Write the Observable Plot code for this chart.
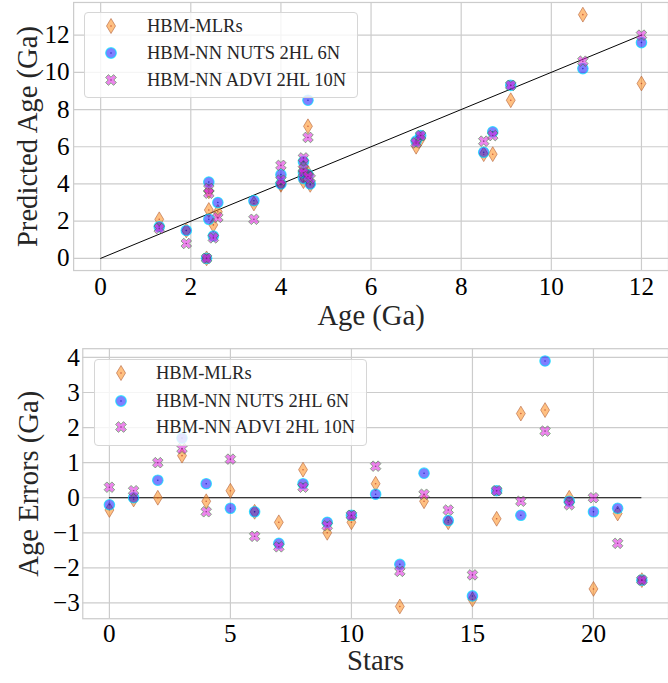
<!DOCTYPE html>
<html><head><meta charset="utf-8">
<script src="https://cdn.jsdelivr.net/npm/d3@7"></script>
<script src="https://cdn.jsdelivr.net/npm/@observablehq/plot@0.6"></script>
<style>
html,body{margin:0;padding:0;overflow:hidden;background:#fff;width:668px;height:683px}
#wrap{position:relative;width:668px;height:683px;overflow:hidden}
.panel{position:absolute;left:0}
.legend{position:absolute;background:rgba(255,255,255,0.8);border:1px solid #d6d6d6;border-radius:4px;box-sizing:border-box;font-family:"Liberation Serif","DejaVu Serif",serif;font-size:18.5px;color:#262626}
.legend .row{position:absolute;height:24px;line-height:24px;white-space:nowrap}
.legend svg{position:absolute;overflow:visible}
</style></head><body><div id="wrap"></div>
<script>
// ---------- data ----------
const stars = [0,1,2,3,4,5,6,7,8,9,10,11,12,13,14,15,16,17,18,19,20,21,22];
const ages     = [4.5, 4.0, 4.0, 2.4, 2.6, 2.4, 1.9, 2.5, 1.3, 7.0, 7.1, 4.5, 8.7, 4.5, 4.65, 8.5, 9.1, 10.7, 4.6, 4.6, 12.0, 3.4, 2.35];
const predMLR  = [4.15, 3.95, 4.0, 3.6, 2.5, 2.6, 1.5, 1.8, 2.1, 6.0, 6.4, 4.9, 5.6, 4.4, 3.95, 5.6, 8.5, 13.1, 7.1, 4.6, 9.4, 2.95, 0.0];
const predNUTS = [4.3, 4.0, 4.5, 4.1, 3.0, 2.1, 1.5, 1.2, 1.7, 6.3, 6.6, 4.6, 6.8, 5.2, 4.0, 5.7, 9.3, 10.2, 8.5, 4.5, 11.6, 3.1, 0.0];
const predADVI = [4.8, 4.2, 5.0, 3.75, 2.2, 3.5, 0.8, 1.1, 1.6, 6.2, 6.6, 5.4, 6.6, 4.6, 4.3, 6.3, 9.3, 10.6, 6.5, 4.4, 12.0, 2.1, 0.0];
const errMLR   = [-0.35, -0.05, 0.0, 1.2, -0.1, 0.2, -0.4, -0.7, 0.8, -1.0, -0.7, 0.4, -3.1, -0.1, -0.7, -2.9, -0.6, 2.4, 2.5, 0.0, -2.6, -0.45, -2.35];
const errNUTS  = [-0.2, 0.0, 0.5, 1.7, 0.4, -0.3, -0.4, -1.3, 0.4, -0.7, -0.5, 0.1, -1.9, 0.7, -0.65, -2.8, 0.2, -0.5, 3.9, -0.1, -0.4, -0.3, -2.35];
const errADVI  = [0.3, 0.2, 1.0, 1.4, -0.4, 1.1, -1.1, -1.4, 0.3, -0.8, -0.5, 0.9, -2.1, 0.1, -0.35, -2.2, 0.2, -0.1, 1.9, -0.2, 0.0, -1.3, -2.35];
const diagX = [0, 12];
const diagY = [0, 12];
const zeroY = [0];
const topXTicks = [0, 2, 4, 6, 8, 10, 12];
const topYTicks = [0, 2, 4, 6, 8, 10, 12];
const botXTicks = [0, 5, 10, 15, 20];
const botYTicks = [-3, -2, -1, 0, 1, 2, 3, 4];
const seriesNames = ["HBM-MLRs", "HBM-NN NUTS 2HL 6N", "HBM-NN ADVI 2HL 10N"];
const topXLabel = "Age (Ga)";
const topYLabel = "Predicted Age (Ga)";
const botXLabel = "Stars";
const botYLabel = "Age Errors (Ga)";

// ---------- styles ----------
const FONT = '"Liberation Serif","DejaVu Serif",serif';
const thinDiamond = {draw(ctx, size) {
  const r = Math.sqrt(size / Math.PI), h = r * 1.5, w = r * 0.9;
  ctx.moveTo(0, -h); ctx.lineTo(w, 0); ctx.lineTo(0, h); ctx.lineTo(-w, 0); ctx.closePath();
}};
const filledX = {draw(ctx, size) {
  const R = Math.sqrt(size / Math.PI) * 1.12, w = R * 0.36;
  const p = [[-w,-R],[w,-R],[w,-w],[R,-w],[R,w],[w,w],[w,R],[-w,R],[-w,w],[-R,w],[-R,-w],[-w,-w]];
  const s = Math.SQRT1_2;
  p.forEach(([x, y], i) => {
    const X = (x - y) * s, Y = (x + y) * s;
    if (i === 0) ctx.moveTo(X, Y); else ctx.lineTo(X, Y);
  });
  ctx.closePath();
}};
const styles = [
  {symbol: thinDiamond, r: 5, fill: "#ff8c1a", fillOpacity: 0.55, stroke: "#b0603a", strokeOpacity: 0.75, strokeWidth: 0.8, dot: "#c0442a"},
  {symbol: "circle", r: 5.3, fill: "#0000ff", fillOpacity: 0.5, stroke: "#00e0ff", strokeOpacity: 0.7, strokeWidth: 1.2, dot: "#1a1ab0"},
  {symbol: filledX, r: 5, fill: "#dd22dd", fillOpacity: 0.55, stroke: "#2e8b2e", strokeOpacity: 0.55, strokeWidth: 1, dot: "#7a1a7a"}
];
const fmt = d => d < 0 ? "\u2212" + Math.abs(d) : String(d);
const gridStyle = {stroke: "#cccccc", strokeOpacity: 1, strokeWidth: 1.2};

function seriesMarks(xs, ys) {
  const marks = [];
  ys.forEach((yv, k) => {
    const s = styles[k];
    marks.push(Plot.dot(stars, {x: xs, y: yv, symbol: s.symbol, r: s.r, fill: s.fill, fillOpacity: s.fillOpacity,
      stroke: s.stroke, strokeOpacity: s.strokeOpacity, strokeWidth: s.strokeWidth}));
    marks.push(Plot.dot(stars, {x: xs, y: yv, r: 0.8, fill: s.dot, fillOpacity: 0.8}));
  });
  return marks;
}

const topPlot = Plot.plot({
  width: 676, height: 340,
  marginTop: 2, marginBottom: 66.7, marginLeft: 74, marginRight: 0,
  style: {fontFamily: FONT, background: "transparent", color: "black"},
  x: {domain: [-0.6, 12.6], label: null},
  y: {domain: [-0.655, 13.755], label: null},
  marks: [
    Plot.gridX(topXTicks, gridStyle),
    Plot.gridY(topYTicks, gridStyle),
    Plot.frame({stroke: "#cccccc", strokeWidth: 1.25}),
    Plot.axisX(topXTicks, {tickSize: 0, tickPadding: 7, fontSize: 25.5, label: null, tickFormat: fmt}),
    Plot.axisY(topYTicks, {tickSize: 0, tickPadding: 4, fontSize: 25.5, label: null, tickFormat: fmt}),
    Plot.line(diagX, {x: diagX, y: diagY, stroke: "black", strokeWidth: 1}),
    ...seriesMarks(ages, [predMLR, predNUTS, predADVI]),
    Plot.text([topXLabel], {text: d => d, frameAnchor: "bottom", dy: 46, fontSize: 29, lineAnchor: "middle", fill: "#262626"}),
    Plot.text([topYLabel], {text: d => d, frameAnchor: "left", rotate: -90, dx: -46, fontSize: 29, textAnchor: "middle", lineAnchor: "middle", fill: "#262626"})
  ]
});

const botPlot = Plot.plot({
  width: 676.3, height: 343,
  marginTop: 8.3, marginBottom: 61.3, marginLeft: 83.3, marginRight: 0,
  style: {fontFamily: FONT, background: "transparent", color: "black"},
  x: {domain: [-1.1, 23.1], label: null},
  y: {domain: [-3.45, 4.25], label: null},
  marks: [
    Plot.gridX(botXTicks, gridStyle),
    Plot.gridY(botYTicks, gridStyle),
    Plot.frame({stroke: "#cccccc", strokeWidth: 1.25}),
    Plot.axisX(botXTicks, {tickSize: 0, tickPadding: 5, fontSize: 25.5, label: null, tickFormat: fmt}),
    Plot.axisY(botYTicks, {tickSize: 0, tickPadding: 3, fontSize: 25.5, label: null, tickFormat: fmt}),
    Plot.ruleY(zeroY, {x1: d3.min(stars), x2: d3.max(stars), stroke: "black", strokeWidth: 1}),
    ...seriesMarks(stars, [errMLR, errNUTS, errADVI]),
    Plot.text([botXLabel], {text: d => d, frameAnchor: "bottom", dy: 43, fontSize: 29, lineAnchor: "middle", fill: "#262626"}),
    Plot.text([botYLabel], {text: d => d, frameAnchor: "left", rotate: -90, dx: -55, fontSize: 29, textAnchor: "middle", lineAnchor: "middle", fill: "#262626"})
  ]
});

const wrap = document.getElementById("wrap");
topPlot.classList.add("panel"); topPlot.style.top = "0px";
botPlot.classList.add("panel"); botPlot.style.top = "340px";
wrap.appendChild(topPlot);
wrap.appendChild(botPlot);

function legend(left, top, width, height, rows, markerX, textX) {
  const div = d3.select(wrap).append("div").attr("class", "legend")
    .style("left", left + "px").style("top", top + "px").style("width", width + "px").style("height", height + "px");
  seriesNames.forEach((name, k) => {
    const s = styles[k];
    const type = typeof s.symbol === "string" ? d3.symbolCircle : s.symbol;
    const svg = div.append("svg").attr("width", 20).attr("height", 20)
      .style("left", (markerX - 10 - 1) + "px").style("top", (rows[k] - 10 - 1) + "px");
    svg.append("path").attr("transform", "translate(10,10)")
      .attr("d", d3.symbol(type, s.r * s.r * Math.PI)())
      .attr("fill", s.fill).attr("fill-opacity", s.fillOpacity)
      .attr("stroke", s.stroke).attr("stroke-opacity", s.strokeOpacity).attr("stroke-width", s.strokeWidth);
    svg.append("circle").attr("cx", 10).attr("cy", 10).attr("r", 0.8).attr("fill", s.dot).attr("fill-opacity", 0.8);
    div.append("div").attr("class", "row").style("left", (textX - 1) + "px").style("top", (rows[k] - 12 - 1) + "px").text(name);
  });
}
legend(84, 12, 274, 86, [14, 41, 68], 26.7, 63);
legend(94, 359, 273, 87, [14, 42, 68], 27, 62);
</script>
</body></html>
